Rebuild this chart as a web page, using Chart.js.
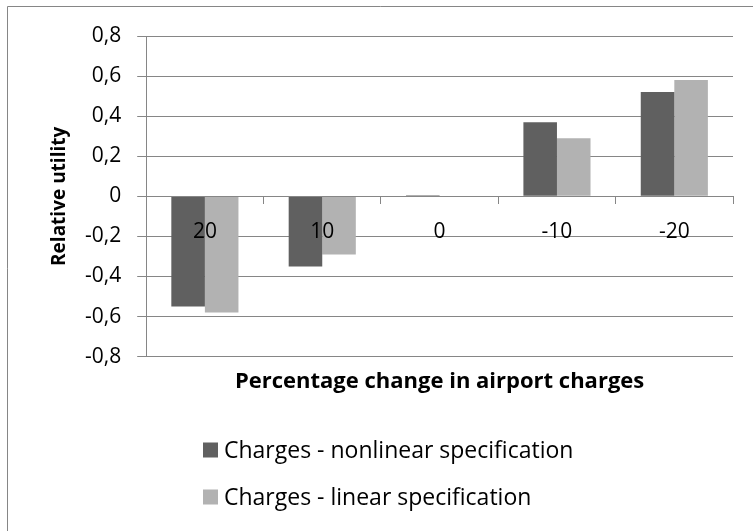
<!DOCTYPE html>
<html>
<head>
<meta charset="utf-8">
<script src="https://cdn.jsdelivr.net/npm/chart.js@4/dist/chart.umd.min.js"></script>
<style>
  html, body { margin: 0; padding: 0; background: #fff; }
  #wrap { width: 753px; height: 531px; position: relative; }
</style>
</head>
<body>
<div id="wrap"><canvas id="myChart" width="753" height="531"></canvas></div>
<script>
// change in airport charges (%)
const categories = ['20', '10', '0', '-10', '-20'];
const nonlinearSpec = [-0.55, -0.35, 0.005, 0.37, 0.52];
const linearSpec = [-0.58, -0.29, 0, 0.29, 0.58];
const yTicks = [-0.8, -0.6, -0.4, -0.2, 0, 0.2, 0.4, 0.6, 0.8];

const FONT = '"Open Sans", sans-serif';
const GRID = '#868686';

function fmtComma(v) {
    const r = Math.round(v * 10) / 10;
    return r === 0 ? '0' : r.toFixed(1).replace('.', ',');
}

// frame lines and white background
const framePlugin = {
    id: 'frame',
    beforeDraw(chart) {
        const ctx = chart.ctx;
        ctx.save();
        ctx.fillStyle = '#fff';
        ctx.fillRect(0, 0, chart.width, chart.height);
        ctx.strokeStyle = GRID;
        ctx.lineWidth = 1;
        ctx.beginPath();
        ctx.moveTo(7.5, chart.height);
        ctx.lineTo(7.5, 6.5);
        ctx.lineTo(chart.width, 6.5);
        ctx.stroke();
        ctx.restore();
    }
};

// vertical legend under the axis title
const stackedLegend = {
    id: 'stackedLegend',
    afterDraw(chart) {
        const ctx = chart.ctx;
        const x0 = 203, y0 = 450, rowGap = 47, box = 15;
        ctx.save();
        ctx.font = '23px ' + FONT;
        ctx.textBaseline = 'middle';
        chart.data.datasets.forEach((ds, i) => {
            const y = y0 + i * rowGap;
            ctx.fillStyle = ds.backgroundColor;
            ctx.fillRect(x0, y - box / 2, box, box);
            ctx.fillStyle = '#000';
            ctx.fillText(ds.label, x0 + box + 6, y + 1);
        });
        ctx.restore();
    }
};

const ctx = document.getElementById('myChart').getContext('2d');
const myChart = new Chart(ctx, {
    type: 'bar',
    data: {
        labels: categories,
        datasets: [{
            label: 'Charges - nonlinear specification',
            data: nonlinearSpec,
            backgroundColor: '#606060',
            categoryPercentage: 0.572,
            barPercentage: 1.0
        }, {
            label: 'Charges - linear specification',
            data: linearSpec,
            backgroundColor: '#b2b2b2',
            categoryPercentage: 0.572,
            barPercentage: 1.0
        }]
    },
    options: {
        responsive: false,
        animation: false,
        layout: {
            padding: { left: 42, right: 20, top: 36, bottom: 136 }
        },
        plugins: {
            legend: { display: false },
            tooltip: { enabled: false }
        },
        scales: {
            x: {
                type: 'category',
                position: 'bottom',
                offset: true,
                grid: { display: false },
                border: { display: false },
                ticks: { display: false },
                title: {
                    display: true,
                    text: 'Percentage change in airport charges',
                    color: '#000',
                    font: { family: FONT, size: 22, weight: 'bold' },
                    padding: { top: 4, bottom: 0 }
                }
            },
            // category labels sit on the zero line, above the bars
            xLabels: {
                type: 'category',
                axis: 'x',
                position: { y: 0 },
                offset: true,
                labels: categories,
                grid: {
                    offset: true,
                    drawOnChartArea: false,
                    drawTicks: true,
                    tickLength: 7,
                    color: GRID,
                    z: 1
                },
                border: { display: true, color: GRID, z: 1 },
                ticks: {
                    color: '#000',
                    padding: 16,
                    maxRotation: 0,
                    z: 1,
                    font: { family: FONT, size: 21 }
                }
            },
            y: {
                min: -0.8,
                max: 0.8,
                afterBuildTicks(scale) {
                    scale.ticks = yTicks.map(v => ({ value: v }));
                },
                grid: {
                    color: GRID,
                    tickLength: 9,
                    drawTicks: true
                },
                border: { display: true, color: GRID },
                ticks: {
                    color: '#000',
                    padding: 16,
                    font: { family: FONT, size: 21 },
                    callback: v => fmtComma(v)
                },
                title: {
                    display: true,
                    text: 'Relative utility',
                    color: '#000',
                    font: { family: FONT, size: 19, weight: 'bold', lineHeight: 1 },
                    padding: { top: 8, bottom: 0 }
                }
            }
        }
    },
    plugins: [framePlugin, stackedLegend]
});
</script>
</body>
</html>
